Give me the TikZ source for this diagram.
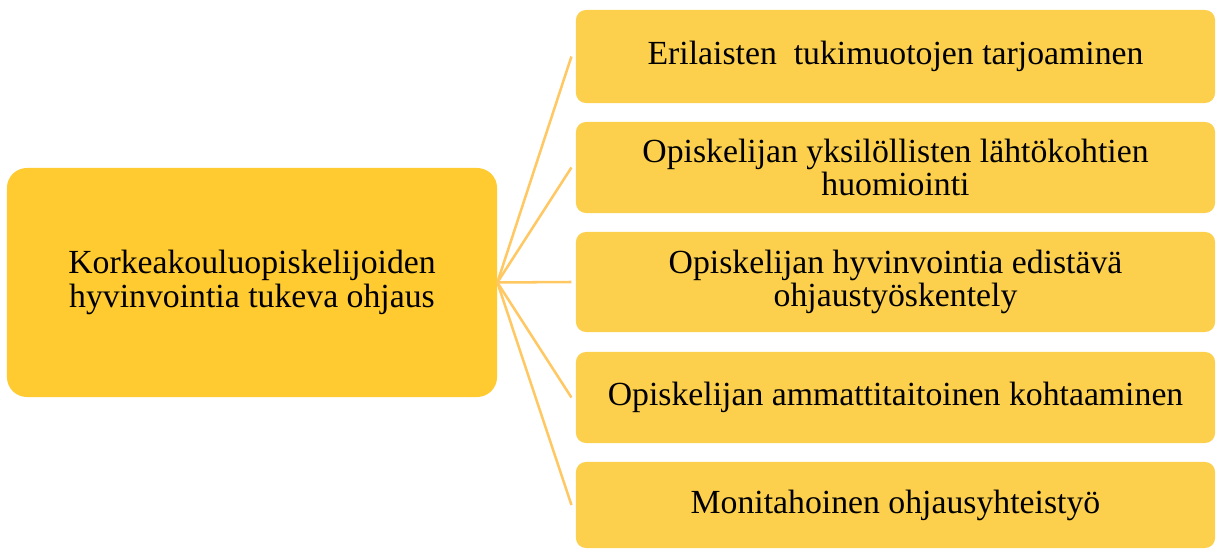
\documentclass[tikz,border=0pt]{standalone}
\usepackage{fontspec}
\setmainfont{Liberation Serif}
\definecolor{mainfill}{RGB}{255,203,48}
\definecolor{subfill}{RGB}{252,208,77}
\definecolor{linkline}{RGB}{255,200,98}
\tikzset{
  mainbox/.style={fill=mainfill,rounded corners=0.5cm,align=center,
    minimum width=12.25cm,minimum height=5.725cm,inner sep=0pt},
  subbox/.style={fill=subfill,rounded corners=0.25cm,align=center,
    minimum width=15.975cm,inner sep=0pt},
  link/.style={draw=linkline,line width=1.8pt}
}
\begin{document}
\begin{tikzpicture}[x=0.025cm,y=-0.025cm,font=\fontsize{24}{24}\selectfont]
\useasboundingbox (0,0) rectangle (1216,550);

\node[mainbox] (ohjaus) at (252,282.5) {Korkeakouluopiskelijoiden\\hyvinvointia tukeva ohjaus};

\node[subbox,minimum height=2.325cm] (tuki) at (895.5,56.5) {Erilaisten\ \ tukimuotojen tarjoaminen};
\node[subbox,minimum height=2.275cm] (lahto) at (895.5,167.5) {Opiskelijan yksilöllisten lähtökohtien\\huomiointi};
\node[subbox,minimum height=2.5cm] (hyvin) at (895.5,282) {Opiskelijan hyvinvointia edistävä\\ohjaustyöskentely};
\node[subbox,minimum height=2.275cm] (kohtaa) at (895.5,397.5) {Opiskelijan ammattitaitoinen kohtaaminen};
\node[subbox,minimum height=2.15cm] (yhteis) at (895.5,505) {Monitahoinen ohjausyhteistyö};

\foreach \b in {tuki,lahto,hyvin,kohtaa,yhteis}
  \draw[link] (ohjaus.east) -- ([xshift=-3]\b.west);
\end{tikzpicture}
\end{document}
